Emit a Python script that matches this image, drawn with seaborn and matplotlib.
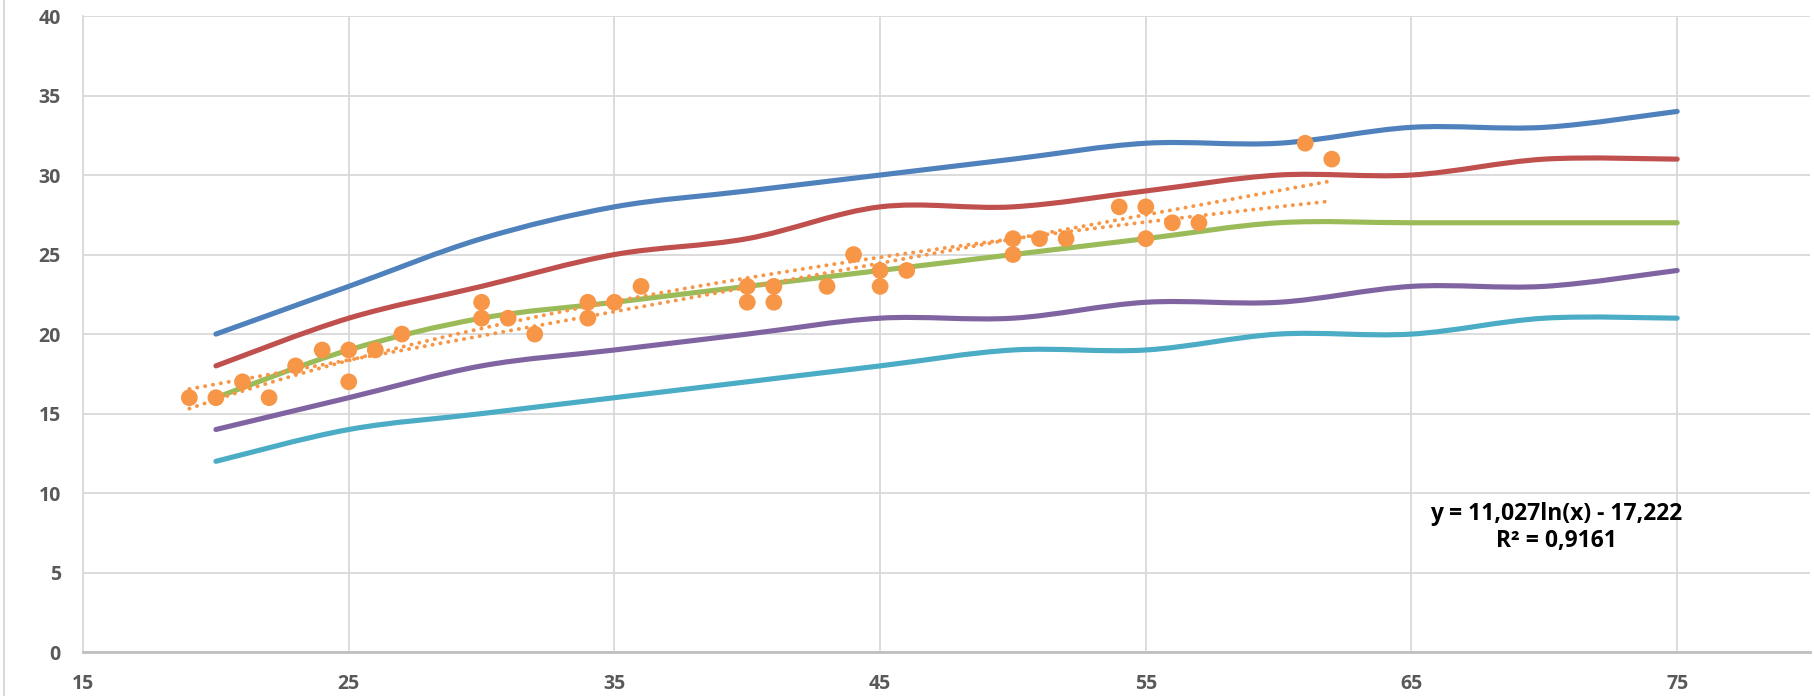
import numpy as np
import pandas as pd
import matplotlib
matplotlib.use('Agg')
import matplotlib.pyplot as plt
from matplotlib.path import Path
from matplotlib.patches import PathPatch
import seaborn as sns

# curve series (x, y) - drawn smoothed like Excel
line_x = [20, 25, 30, 35, 40, 45, 50, 55, 60, 65, 70, 75]
blue_y = [20, 23, 26, 28, 29, 30, 31, 32, 32, 33, 33, 34]
red_y = [18, 21, 23, 25, 26, 28, 28, 29, 30, 30, 31, 31]
green_y = [16, 19, 21, 22, 23, 24, 25, 26, 27, 27, 27, 27]
purple_y = [14, 16, 18, 19, 20, 21, 21, 22, 22, 23, 23, 24]
cyan_y = [12, 14, 15, 16, 17, 18, 19, 19, 20, 20, 21, 21]

# measured points
pts_x = [19, 20, 21, 22, 23, 24, 25, 25, 26, 27, 30, 30, 31, 32, 34, 34, 35, 36,
         40, 40, 41, 41, 43, 44, 45, 45, 46, 50, 50, 51, 52, 54, 55, 55, 56, 57, 61, 62]
pts_y = [16, 16, 17, 16, 18, 19, 19, 17, 19, 20, 22, 21, 21, 20, 22, 21, 22, 23,
         23, 22, 23, 22, 23, 25, 24, 23, 24, 26, 25, 26, 26, 28, 28, 26, 27, 27, 32, 31]

eq_text = 'y = 11,027ln(x) - 17,222\nR² = 0,9161'
x_ticks = [15, 25, 35, 45, 55, 65, 75]
y_ticks = [0, 5, 10, 15, 20, 25, 30, 35, 40]

ORANGE = '#F79646'
series = [
    (blue_y, '#4F81BD'),
    (red_y, '#C0504D'),
    (green_y, '#9BBB59'),
    (purple_y, '#8064A2'),
    (cyan_y, '#4BACC6'),
]


def smooth_path(xs, ys):
    # Bezier path through the points (Excel-style smoothed line)
    p = np.column_stack([xs, ys]).astype(float)
    n = len(p)
    verts = [p[0]]
    codes = [Path.MOVETO]
    for i in range(n - 1):
        p0 = p[i - 1] if i > 0 else p[i]
        p3 = p[i + 2] if i + 2 < n else p[i + 1]
        c1 = p[i] + (p[i + 1] - p0) / 6.0
        c2 = p[i + 1] - (p3 - p[i]) / 6.0
        verts += [c1, c2, p[i + 1]]
        codes += [Path.CURVE4] * 3
    return Path(verts, codes)


sns.set_style('white')
plt.rcParams['font.family'] = ['Open Sans', 'DejaVu Sans']

fig = plt.figure(figsize=(18.14, 6.96), dpi=100)
ax = fig.add_axes([0.0458, 0.063, 0.952, 0.914])

for ys, c in series:
    ax.add_patch(PathPatch(smooth_path(line_x, ys), facecolor='none',
                           edgecolor=c, lw=3.7, capstyle='round', zorder=3))

df = pd.DataFrame({'x': pts_x, 'y': pts_y})
sns.scatterplot(data=df, x='x', y='y', ax=ax, color=ORANGE, s=145,
                edgecolor='none', zorder=4)

dot_kws = dict(color=ORANGE, lw=2.8, linestyle=(0, (0.05, 2.0)),
               dash_capstyle='round', zorder=5)
sns.regplot(data=df, x='x', y='y', ax=ax, scatter=False, ci=None,
            truncate=True, line_kws=dot_kws)
sns.regplot(data=df, x='x', y='y', ax=ax, scatter=False, ci=None,
            truncate=True, logx=True, line_kws=dot_kws)

ax.text(70.45, 7.85, eq_text, ha='center', va='center', fontsize=16.5,
        fontweight='bold', color='black', linespacing=1.2, zorder=6)

ax.set_xlim(15, 80)
ax.set_ylim(0, 40)
ax.set_xticks(x_ticks)
ax.set_yticks(y_ticks)
ax.set_xlabel('')
ax.set_ylabel('')
ax.grid(True, color='#D9D9D9', lw=1.3, zorder=0)
ax.set_axisbelow(True)
for s in ['top', 'right']:
    ax.spines[s].set_visible(False)
ax.spines['left'].set_color('#D9D9D9')
ax.spines['left'].set_linewidth(1.3)
ax.spines['bottom'].set_color('#BFBFBF')
ax.spines['bottom'].set_linewidth(2.0)
ax.tick_params(axis='x', length=6, width=1.3, color='#D9D9D9', pad=10,
               labelsize=14, labelcolor='#595959')
ax.tick_params(axis='y', length=0, pad=16, labelsize=14, labelcolor='#595959')
for lab in ax.get_xticklabels() + ax.get_yticklabels():
    lab.set_fontweight('bold')

# chart frame on the left edge
fig.add_artist(plt.Line2D([0.002, 0.002], [0, 1], color='#D9D9D9', lw=1.5))

fig.savefig('out.png', dpi=100)
